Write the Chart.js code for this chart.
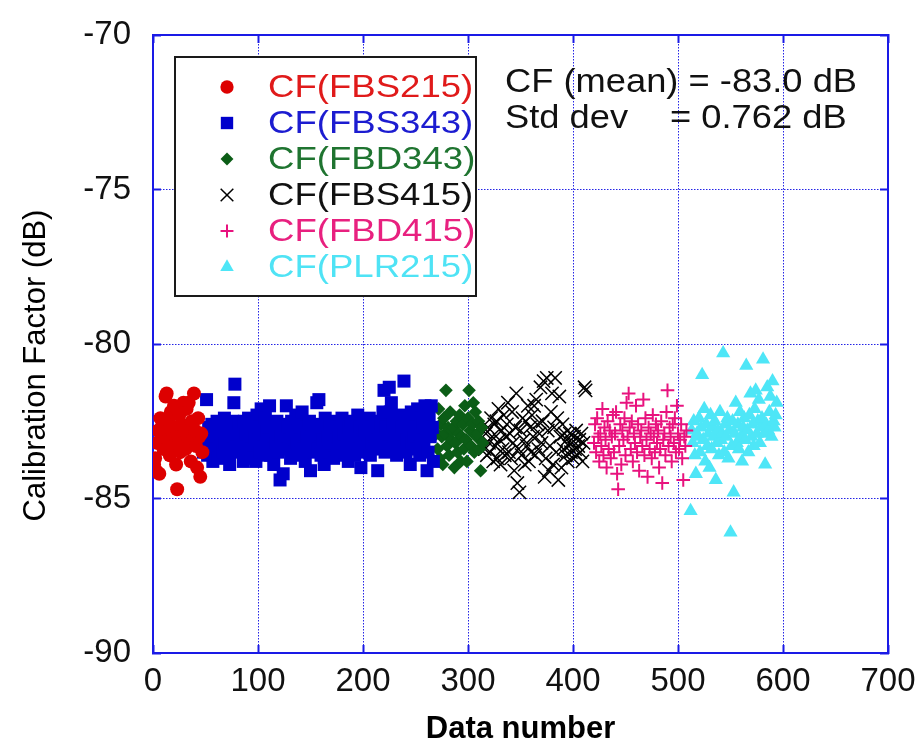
<!DOCTYPE html>
<html>
<head>
<meta charset="utf-8">
<script src="https://cdn.jsdelivr.net/npm/chart.js@4.4.1/dist/chart.umd.min.js"></script>
<style>
  html, body { margin: 0; padding: 0; background: #ffffff; }
  #c { display: block; }
</style>
</head>
<body>
<canvas id="c" width="919" height="746"></canvas>
<script>
// ---------------- data ----------------
const seriesLabels = ['CF(FBS215)', 'CF(FBS343)', 'CF(FBD343)', 'CF(FBS415)', 'CF(FBD415)', 'CF(PLR215)'];
// data number of the first point of each series (points are consecutive data numbers)
const firstDataNumber = [1, 48, 270, 316, 420, 512];

const cfFBS215 = [
  -83.9,-83.7,-84.1,-83.2,-82.8,-84.2,-82.4,-83.0,-82.6,-83.4,
  -82.9,-81.7,-81.6,-83.1,-82.5,-83.6,-82.2,-82.8,-83.3,-82.0,
  -82.7,-83.9,-84.7,-83.0,-82.3,-83.5,-82.6,-83.2,-81.9,-82.9,
  -83.4,-82.1,-83.0,-81.9,-82.7,-83.8,-82.5,-83.1,-81.6,-82.8,
  -83.3,-84.0,-82.4,-83.0,-84.3,-82.9,-83.5
];
const cfFBS343 = [
  -83.5,-82.9,-83.2,-81.8,-83.6,-82.7,-83.3,-83.0,-82.6,-83.8,
  -83.1,-82.8,-83.4,-82.5,-83.7,-83.0,-82.9,-83.3,-82.6,-83.5,
  -82.4,-83.2,-83.6,-82.8,-83.0,-83.9,-82.7,-83.4,-82.5,-81.9,
  -81.3,-83.1,-82.9,-83.5,-82.6,-83.3,-83.0,-82.7,-83.8,-82.5,
  -83.2,-82.9,-83.6,-82.4,-83.1,-83.4,-82.8,-83.7,-82.6,-83.0,
  -83.8,-82.3,-83.2,-82.7,-83.5,-82.1,-83.0,-82.9,-83.6,-82.4,
  -83.3,-82.8,-83.1,-82.0,-83.6,-82.6,-83.4,-83.9,-82.7,-83.2,
  -82.5,-83.5,-82.9,-84.4,-83.0,-82.6,-84.2,-83.3,-82.8,-82.0,
  -83.4,-82.7,-83.1,-83.7,-82.5,-83.0,-82.9,-83.5,-82.3,-83.2,
  -82.8,-83.6,-82.6,-83.1,-82.2,-83.4,-82.9,-83.8,-82.7,-83.0,
  -83.3,-82.5,-84.1,-83.0,-82.8,-83.5,-82.6,-83.2,-81.9,-83.4,
  -81.8,-82.9,-83.6,-82.7,-83.1,-83.9,-82.4,-83.3,-82.8,-83.0,
  -83.5,-82.6,-83.2,-82.9,-83.7,-82.5,-83.1,-83.4,-82.7,-83.0,
  -82.8,-83.6,-82.4,-83.2,-82.9,-83.5,-82.6,-83.1,-83.8,-82.7,
  -83.3,-82.5,-83.0,-82.8,-83.6,-82.9,-83.2,-82.3,-83.4,-82.7,
  -84.0,-83.1,-82.6,-83.3,-82.8,-83.5,-82.9,-83.0,-82.4,-83.6,
  -82.7,-83.2,-82.9,-83.4,-82.5,-83.1,-84.1,-82.8,-83.3,-82.6,
  -83.0,-82.2,-81.5,-83.5,-82.7,-83.2,-82.9,-81.4,-82.2,-81.9,
  -83.4,-82.6,-83.1,-82.8,-83.6,-82.5,-83.0,-82.3,-83.3,-82.7,
  -82.9,-81.2,-82.4,-83.5,-83.1,-82.6,-82.8,-83.9,-82.2,-83.2,
  -82.5,-83.0,-82.7,-83.4,-82.1,-82.9,-83.6,-82.4,-83.1,-82.6,
  -83.3,-82.0,-82.8,-84.1,-83.5,-82.3,-83.0,-82.0,-82.7,-83.8
];
const cfFBD343 = [
  -82.9,-83.4,-82.1,-83.7,-82.6,-83.0,-83.9,-82.4,-82.9,-81.5,
  -83.3,-82.7,-83.6,-82.2,-83.1,-82.8,-82.7,-84.0,-83.2,-82.5,
  -83.5,-82.9,-82.3,-83.8,-83.0,-82.6,-83.4,-82.0,-83.1,-83.8,
  -82.4,-81.5,-82.8,-83.3,-82.6,-81.9,-83.5,-82.2,-83.0,-82.9,
  -82.5,-83.4,-84.1,-82.7,-83.2
];
const cfFBS415 = [
  -83.4,-82.9,-83.6,-82.7,-83.2,-83.5,-82.4,-83.0,-83.8,-82.6,
  -83.3,-82.5,-83.7,-82.1,-83.1,-83.9,-82.8,-83.4,-82.3,-83.6,
  -83.0,-82.6,-81.9,-83.5,-82.9,-83.7,-82.2,-83.2,-84.1,-82.7,
  -81.6,-84.5,-83.4,-84.8,-82.8,-83.6,-82.4,-83.1,-83.9,-82.5,
  -83.3,-82.0,-83.8,-82.7,-83.5,-82.3,-83.0,-82.0,-83.6,-81.8,
  -82.6,-83.4,-82.9,-81.4,-83.2,-82.5,-81.2,-84.3,-83.7,-81.1,
  -82.8,-84.1,-83.3,-82.2,-81.6,-83.9,-82.7,-81.1,-83.5,-82.4,
  -84.4,-81.7,-83.0,-84.0,-82.6,-83.4,-82.9,-83.6,-83.1,-83.8,
  -83.3,-82.9,-83.5,-83.2,-83.7,-83.0,-83.4,-82.8,-83.6,-83.3,
  -83.1,-83.5,-82.9,-83.8,-83.2,-81.4,-81.5
];
const cfFBD415 = [
  -83.2,-82.6,-83.5,-82.4,-83.0,-83.8,-82.9,-83.3,-82.1,-83.6,
  -82.7,-83.1,-84.0,-82.5,-83.4,-82.8,-83.7,-83.0,-82.3,-83.5,
  -82.9,-82.2,-84.2,-84.7,-83.3,-82.6,-83.9,-82.8,-83.1,-82.4,
  -83.6,-81.9,-83.0,-81.6,-82.7,-83.4,-82.5,-83.8,-82.9,-83.2,
  -82.0,-83.5,-82.6,-84.1,-83.0,-82.8,-83.3,-81.8,-83.6,-82.4,
  -83.1,-84.3,-82.7,-83.4,-82.9,-83.7,-82.3,-83.0,-83.5,-82.6,
  -83.2,-82.8,-84.0,-83.4,-82.5,-84.5,-83.1,-82.9,-83.6,-82.2,
  -81.5,-83.3,-82.7,-83.0,-83.8,-82.6,-83.2,-82.4,-83.5,-82.0,
  -82.9,-83.4,-83.1,-82.6,-83.7,-84.4,-83.0,-83.3,-82.8
];
const cfPLR215 = [
  -85.4,-82.8,-83.2,-82.5,-83.6,-84.2,-82.9,-83.0,-82.4,-83.5,
  -82.7,-81.0,-83.1,-82.1,-83.8,-82.6,-83.3,-82.9,-84.0,-82.3,
  -83.4,-82.7,-83.0,-82.5,-84.4,-83.2,-82.8,-83.6,-82.2,-83.1,
  -82.9,-80.3,-83.5,-82.6,-83.0,-82.4,-83.7,-82.8,-86.1,-83.3,
  -82.5,-84.8,-82.9,-81.9,-83.2,-82.6,-83.4,-82.2,-83.0,-83.8,
  -82.7,-82.4,-83.1,-80.7,-82.8,-83.5,-82.3,-81.6,-83.0,-82.6,
  -83.3,-82.1,-81.5,-82.9,-82.5,-81.8,-83.2,-82.7,-82.4,-80.5,
  -82.9,-83.9,-82.6,-81.4,-82.8,-82.2,-81.7,-83.0,-81.2,-82.5,
  -82.7,-82.3,-81.9
];
const seriesValues = [cfFBS215, cfFBS343, cfFBD343, cfFBS415, cfFBD415, cfPLR215];

const xTickValues = [0, 100, 200, 300, 400, 500, 600, 700];
const yTickValues = [-90, -85, -80, -75, -70];
const statLines = ['CF (mean) = -83.0 dB', 'Std dev', '= 0.762 dB'];

// ---------------- styles ----------------
const FONT = "'Liberation Sans', Arial, Helvetica, sans-serif";
const markColors = ['#dd0000', '#0000cc', '#0b5d16', '#000000', '#e8127e', '#4ee6f7'];
const textColors = ['#e01a1a', '#1c1cd0', '#1f7430', '#111111', '#e8207f', '#4fe3f5'];
const styles = ['circle', 'rect', 'rectRot', 'crossRot', 'cross', 'triangle'];
const radii = [7, 9.2, 6.8, 9.4, 6.8, 8.2];
const widths = [0, 0, 0, 1.5, 2, 0];
const AXIS = '#1a1ae6';
const GRID = '#2323e6';

function toPoints(values, start) {
  return values.map((v, i) => ({ x: start + i, y: v }));
}

const datasets = seriesValues.map((vals, i) => ({
  label: seriesLabels[i],
  data: toPoints(vals, firstDataNumber[i]),
  pointStyle: styles[i],
  pointRadius: radii[i],
  pointHoverRadius: radii[i],
  backgroundColor: markColors[i],
  borderColor: markColors[i],
  borderWidth: widths[i],
  showLine: false
}));

function stretchedText(ctx, text, x, y, sx) {
  ctx.save();
  ctx.translate(x, y);
  ctx.scale(sx, 1);
  ctx.fillText(text, 0, 0);
  ctx.restore();
}

const overlayPlugin = {
  id: 'overlay',
  afterDatasetsDraw(chart) {
    const { ctx, chartArea: a } = chart;
    ctx.save();
    // legend box
    const L = a.left + 22, T = a.top + 22, W = 301, H = 239;
    ctx.fillStyle = '#ffffff';
    ctx.fillRect(L, T, W, H);
    ctx.lineWidth = 2;
    ctx.strokeStyle = '#1a1a1a';
    ctx.strokeRect(L, T, W, H);
    ctx.font = '31px ' + FONT;
    ctx.textBaseline = 'middle';
    ctx.textAlign = 'left';
    chart.data.datasets.forEach((ds, i) => {
      const cy = T + 30 + i * 36;
      ctx.fillStyle = ds.backgroundColor;
      ctx.strokeStyle = ds.borderColor;
      ctx.lineWidth = ds.borderWidth;
      Chart.helpers.drawPoint(ctx, { pointStyle: ds.pointStyle, radius: ds.pointRadius * 0.95, borderWidth: ds.borderWidth, rotation: 0 }, L + 52, cy);
      ctx.fillStyle = textColors[i];
      stretchedText(ctx, ds.label, L + 93, cy + 1, 1.18);
    });
    // statistics text
    ctx.fillStyle = '#111111';
    ctx.font = '33px ' + FONT;
    ctx.textBaseline = 'alphabetic';
    stretchedText(ctx, statLines[0], a.left + 352, a.top + 57, 1.1);
    stretchedText(ctx, statLines[1], a.left + 352, a.top + 93, 1.1);
    stretchedText(ctx, statLines[2], a.left + 517, a.top + 93, 1.1);
    ctx.restore();
  }
};

Chart.defaults.font.family = FONT;

new Chart(document.getElementById('c').getContext('2d'), {
  type: 'scatter',
  data: { datasets },
  plugins: [overlayPlugin],
  options: {
    responsive: false,
    animation: false,
    events: [],
    layout: { padding: { top: 35, left: 0, right: 0, bottom: 0 } },
    plugins: { legend: { display: false }, tooltip: { enabled: false } },
    scales: {
      x: {
        type: 'linear', position: 'bottom',
        min: xTickValues[0], max: xTickValues[xTickValues.length - 1],
        afterBuildTicks: s => { s.ticks = xTickValues.map(v => ({ value: v })); },
        ticks: { color: '#111', font: { size: 33 }, padding: 17, maxRotation: 0, autoSkip: false },
        grid: { color: GRID, lineWidth: 1, drawTicks: true, tickLength: -8, tickColor: AXIS, tickWidth: 2 },
        border: { display: true, color: AXIS, width: 2, dash: [1.5, 1.5] },
        title: { display: true, text: 'Data number', color: '#000', font: { size: 31, weight: 'bold', lineHeight: 1 }, padding: { top: 0, bottom: 1 } },
        afterFit: s => { s.height = 93; s.paddingLeft = 0; s.paddingRight = 0; }
      },
      x2: {
        type: 'linear', position: 'top',
        min: xTickValues[0], max: xTickValues[xTickValues.length - 1],
        afterBuildTicks: s => { s.ticks = xTickValues.map(v => ({ value: v })); },
        ticks: { display: false },
        grid: { drawOnChartArea: false, drawTicks: true, tickLength: -8, tickColor: AXIS, tickWidth: 2 },
        border: { display: true, color: AXIS, width: 2 },
        afterFit: s => { s.height = 0; s.paddingLeft = 0; s.paddingRight = 0; }
      },
      y: {
        type: 'linear', position: 'left',
        min: yTickValues[0], max: yTickValues[yTickValues.length - 1],
        afterBuildTicks: s => { s.ticks = yTickValues.map(v => ({ value: v })); },
        ticks: { color: '#111', font: { size: 33 }, padding: 30 },
        grid: { color: GRID, lineWidth: 1, drawTicks: true, tickLength: -8, tickColor: AXIS, tickWidth: 2 },
        border: { display: true, color: AXIS, width: 2, dash: [1.5, 1.5] },
        title: { display: true, text: 'Calibration Factor (dB)     ', color: '#000', font: { size: 31, lineHeight: 1.2 }, padding: { top: 18, bottom: 0 } },
        afterFit: s => { s.width = 153; s.paddingTop = 0; s.paddingBottom = 0; }
      },
      y2: {
        type: 'linear', position: 'right',
        min: yTickValues[0], max: yTickValues[yTickValues.length - 1],
        afterBuildTicks: s => { s.ticks = yTickValues.map(v => ({ value: v })); },
        ticks: { display: false },
        grid: { drawOnChartArea: false, drawTicks: true, tickLength: -8, tickColor: AXIS, tickWidth: 2 },
        border: { display: true, color: AXIS, width: 2 },
        afterFit: s => { s.width = 31; s.paddingTop = 0; s.paddingBottom = 0; }
      }
    }
  }
});
</script>
</body>
</html>
